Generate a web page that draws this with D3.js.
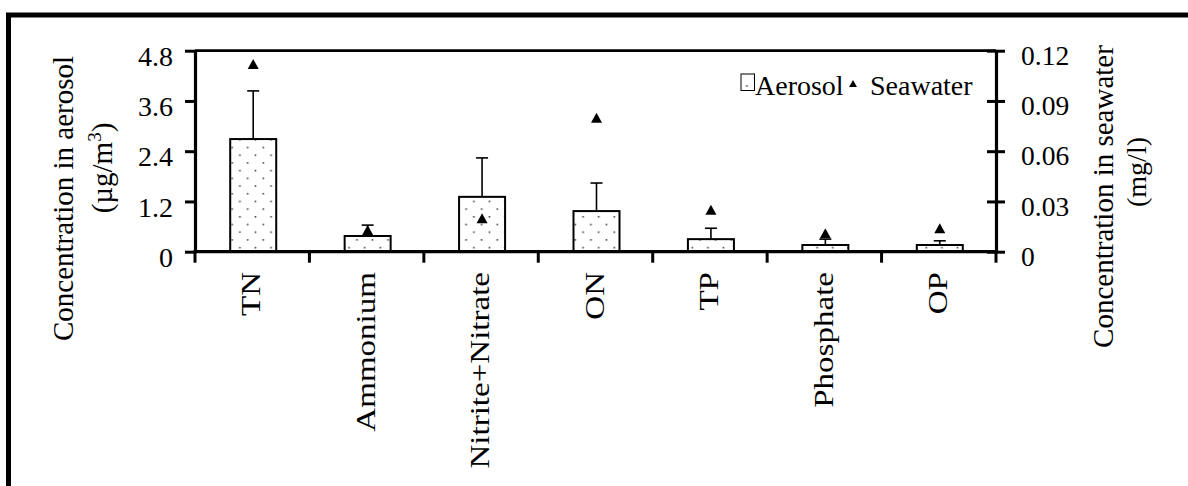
<!DOCTYPE html>
<html>
<head>
<meta charset="utf-8">
<script src="https://cdn.jsdelivr.net/npm/d3@7"></script>
<style>
  html, body { margin: 0; padding: 0; background: #fff; }
  svg { display: block; }
  text { font-family: "Liberation Serif", "Times New Roman", serif; fill: #000; }
</style>
</head>
<body>
<svg id="chart" width="1188" height="486"></svg>
<script>
// Nutrient species on the category axis
const categories = ["TN", "Ammonium", "Nitrite+Nitrate", "ON", "TP", "Phosphate", "OP"];
// Aerosol concentrations (µg/m3): mean and standard deviation
const aerosolMean = [2.69, 0.375, 1.31, 0.97, 0.30, 0.16, 0.16];
const aerosolSD   = [1.15, 0.26, 0.93, 0.67, 0.26, 0.14, 0.10];
// Seawater concentrations (mg/l)
const seawater = [0.112, 0.013, 0.020, 0.080, 0.025, 0.011, 0.014];
// Axis tick values
const leftTicks  = [0, 1.2, 2.4, 3.6, 4.8];
const rightTicks = [0, 0.03, 0.06, 0.09, 0.12];

const svg = d3.select("#chart");
const plot = { left: 195, right: 996, top: 50.7, bottom: 251.7 };

const x = d3.scaleBand().domain(categories).range([plot.left, plot.right]);
const yL = d3.scaleLinear().domain([0, 4.8]).range([plot.bottom, plot.top]);
const yR = d3.scaleLinear().domain([0, 0.12]).range([plot.bottom, plot.top]);

// Stippled fill used by the bars and the legend swatch
const defs = svg.append("defs");
const pat = defs.append("pattern")
  .attr("id", "dots").attr("patternUnits", "userSpaceOnUse")
  .attr("x", 230.7).attr("y", 146.7)
  .attr("width", 15.6).attr("height", 15.4);
pat.append("rect").attr("width", 15.6).attr("height", 15.4).attr("fill", "#fff");
pat.append("rect").attr("x", 0.6).attr("y", 0).attr("width", 1.6).attr("height", 1.6).attr("fill", "#444");
pat.append("rect").attr("x", 8.4).attr("y", 7.7).attr("width", 1.6).attr("height", 1.6).attr("fill", "#444");

// Outer frame
svg.append("rect")
  .attr("x", 8.5).attr("y", 15).attr("width", 1300).attr("height", 600)
  .attr("fill", "none").attr("stroke", "#000").attr("stroke-width", 5);

// Triangle marker centred on its bounding box
const triangle = {
  draw(ctx, size) {
    const h = Math.sqrt(size / 1.1), w = 1.1 * h;
    ctx.moveTo(0, -h / 2);
    ctx.lineTo(w / 2, h / 2);
    ctx.lineTo(-w / 2, h / 2);
    ctx.closePath();
  }
};

const data = categories.map((c, i) => ({ c, mean: aerosolMean[i], sd: aerosolSD[i], sea: seawater[i] }));
const barW = 46;
const cx = d => x(d.c) + x.bandwidth() / 2 + 1;

// Bars
svg.append("g").selectAll("rect").data(data).join("rect")
  .attr("x", d => cx(d) - barW / 2)
  .attr("y", d => yL(d.mean))
  .attr("width", barW)
  .attr("height", d => yL(0) - yL(d.mean))
  .attr("fill", "url(#dots)")
  .attr("stroke", "#000").attr("stroke-width", 2);

// Error bars (upper half only)
const eb = svg.append("g").attr("stroke", "#000").attr("stroke-width", 1.6);
eb.selectAll("line.v").data(data).join("line").attr("class", "v")
  .attr("x1", cx).attr("x2", cx)
  .attr("y1", d => yL(d.mean)).attr("y2", d => yL(d.mean + d.sd));
eb.selectAll("line.c").data(data).join("line").attr("class", "c")
  .attr("x1", d => cx(d) - 6).attr("x2", d => cx(d) + 6)
  .attr("y1", d => yL(d.mean + d.sd)).attr("y2", d => yL(d.mean + d.sd));

// Seawater markers on the secondary axis
svg.append("g").selectAll("path").data(data).join("path")
  .attr("transform", d => `translate(${cx(d)},${yR(d.sea)})`)
  .attr("d", d3.symbol().type(triangle).size(110))
  .attr("fill", "#000");

// Plot box top edge
svg.append("line")
  .attr("x1", plot.left).attr("x2", plot.right)
  .attr("y1", plot.top).attr("y2", plot.top)
  .attr("stroke", "#000").attr("stroke-width", 2.8);

// Left axis
const gL = svg.append("g").attr("transform", `translate(${plot.left},0)`)
  .call(d3.axisLeft(yL).tickValues(leftTicks).tickSize(10).tickSizeOuter(0)
    .tickFormat(d => d === 0 ? "0" : d.toFixed(1)));
gL.select(".domain").attr("stroke-width", 3.2);
gL.selectAll(".tick line").attr("stroke-width", 3);
gL.selectAll(".tick text")
  .attr("x", -22).attr("dy", "0.52em")
  .attr("font-size", 28).attr("font-family", null);

// Right axis with crossing ticks
const gR = svg.append("g").attr("transform", `translate(${plot.right},0)`)
  .call(d3.axisRight(yR).tickValues(rightTicks).tickSize(9).tickSizeOuter(0)
    .tickFormat(d => d === 0 ? "0" : d.toFixed(2)));
gR.select(".domain").attr("stroke-width", 3.2);
gR.selectAll(".tick line").attr("x1", -9).attr("stroke-width", 3);
gR.selectAll(".tick text")
  .attr("x", 25).attr("dy", "0.5em")
  .attr("font-size", 27.5).attr("font-family", null);

// Category axis: baseline, boundary ticks, rotated labels
svg.append("line")
  .attr("x1", plot.left - 1.5).attr("x2", plot.right + 1.5)
  .attr("y1", yL(0)).attr("y2", yL(0))
  .attr("stroke", "#000").attr("stroke-width", 3.2);
const bounds = categories.map(c => x(c)).concat([x.range()[1]]);
svg.append("g").selectAll("line").data(bounds).join("line")
  .attr("x1", d => d).attr("x2", d => d)
  .attr("y1", yL(0)).attr("y2", yL(0) + 11)
  .attr("stroke", "#000").attr("stroke-width", 3);
svg.append("g").selectAll("text").data(categories).join("text")
  .attr("transform", c => `translate(${x(c) + x.bandwidth() / 2 - 1},272) rotate(-90) scale(1.18,1)`)
  .attr("text-anchor", "end").attr("dy", "0.33em")
  .attr("font-size", 28)
  .text(c => c);

// Axis titles
svg.append("text")
  .attr("transform", "translate(72.7,198.5) rotate(-90)")
  .attr("text-anchor", "middle").attr("font-size", 29)
  .text("Concentration in aerosol");
const titleL2 = svg.append("text")
  .attr("transform", "translate(112,168) rotate(-90)")
  .attr("text-anchor", "middle").attr("font-size", 29);
titleL2.append("tspan").text("(µg/m");
titleL2.append("tspan").attr("font-size", 19).attr("dy", "-11").text("3");
titleL2.append("tspan").attr("dy", "11").text(")");

svg.append("text")
  .attr("transform", "translate(1112.5,196.5) rotate(-90)")
  .attr("text-anchor", "middle").attr("font-size", 29)
  .text("Concentration in seawater");
svg.append("text")
  .attr("transform", "translate(1146,172) rotate(-90)")
  .attr("text-anchor", "middle").attr("font-size", 28)
  .text("(mg/l)");

// Legend
const lg = svg.append("g");
lg.append("rect").attr("x", 741).attr("y", 74).attr("width", 13.5).attr("height", 16.5)
  .attr("fill", "url(#dots)").attr("stroke", "#000").attr("stroke-width", 1);
lg.append("text").attr("x", 755).attr("y", 94.5).attr("font-size", 28).text("Aerosol");
lg.append("path").attr("transform", "translate(853,83.5)")
  .attr("d", d3.symbol().type(triangle).size(56)).attr("fill", "#000");
lg.append("text").attr("x", 870).attr("y", 94.5).attr("font-size", 28).text("Seawater");
</script>
</body>
</html>
